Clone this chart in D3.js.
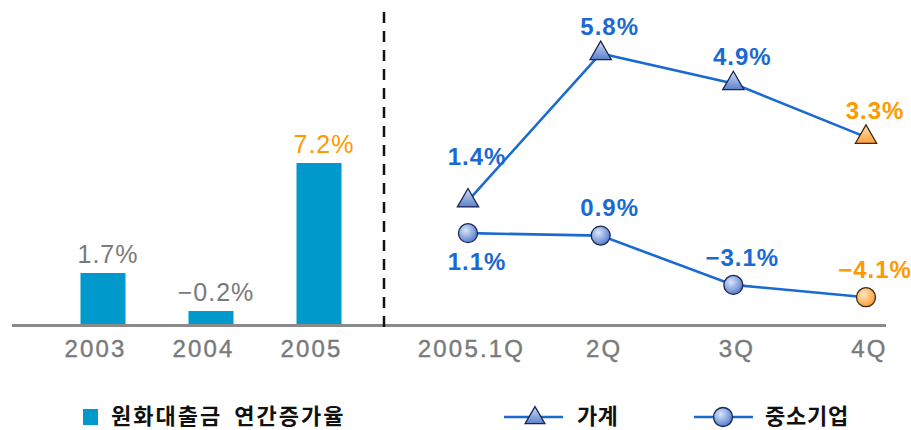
<!DOCTYPE html>
<html><head><meta charset="utf-8">
<script src="https://cdn.jsdelivr.net/npm/d3@7"></script>
<style>
html,body{margin:0;padding:0;background:#fff;}
svg{display:block;}
</style></head><body>
<svg id="chart" width="911" height="430"></svg>
<script>
// ---- data ----
const years = ["2003", "2004", "2005"];
const loanGrowth = [1.7, -0.2, 7.2];
const quarters = ["2005.1Q", "2Q", "3Q", "4Q"];
const household = [1.4, 5.8, 4.9, 3.3];
const sme = [1.1, 0.9, -3.1, -4.1];
const seriesNames = ["원화대출금 연간증가율", "가계", "중소기업"];

// ---- setup ----
const svg = d3.select("#chart");
const baseY = 325;
const BLUE = "#1a6ad2", ORANGE = "#ff9900", GRAY = "#7a7a7a", BAR = "#0099cc";
const NUMFONT = "'Liberation Sans', Arial, sans-serif";
const KRFONT = "'Noto Sans CJK KR', sans-serif";
const fmt = v => d3.format(".1f")(v) + "%";

const defs = svg.append("defs");
function linGrad(id, c1, c2) {
  const g = defs.append("linearGradient").attr("id", id).attr("x1", 0).attr("y1", 0).attr("x2", 0).attr("y2", 1);
  g.append("stop").attr("offset", "0%").attr("stop-color", c1);
  g.append("stop").attr("offset", "100%").attr("stop-color", c2);
}
function radGrad(id, c1, c2) {
  const g = defs.append("radialGradient").attr("id", id).attr("cx", "38%").attr("cy", "35%").attr("r", "70%");
  g.append("stop").attr("offset", "0%").attr("stop-color", c1);
  g.append("stop").attr("offset", "100%").attr("stop-color", c2);
}
linGrad("triBlue", "#d3e0f8", "#5b7fc9");
linGrad("triOrange", "#ffe2b8", "#ff9f3a");
radGrad("cirBlue", "#dbe6fb", "#4e78cb");
radGrad("cirOrange", "#ffe4bd", "#ff9a2e");

// ---- scales ----
const xBar = d3.scalePoint().domain(years).range([103, 319]);
const yBar = d3.scaleLinear().domain([-0.9, 7.2]).range([baseY, 163]);
const xQ = d3.scalePoint().domain(quarters).range([468, 866]);
const yHH = d3.scaleLinear().domain([0, 6]).range([247.7, 46.7]);
const ySME = d3.scaleLinear().domain([-5, 0]).range([308.3, 246.7]);

// ---- bars ----
const barW = 45;
svg.append("g").selectAll("rect").data(loanGrowth).join("rect")
  .attr("x", (d, i) => xBar(years[i]) - barW / 2)
  .attr("width", barW)
  .attr("y", d => yBar(d))
  .attr("height", d => baseY - yBar(d))
  .attr("fill", BAR);

svg.append("g").selectAll("text").data(loanGrowth).join("text")
  .attr("x", (d, i) => xBar(years[i]) + 5)
  .attr("y", d => yBar(d) - 19)
  .attr("dy", "0.36em")
  .attr("text-anchor", "middle")
  .attr("font-family", NUMFONT).attr("font-size", 25).attr("letter-spacing", 1)
  .attr("fill", (d, i) => i === loanGrowth.length - 1 ? ORANGE : GRAY)
  .text(d => fmt(d));

// ---- baseline & divider ----
svg.append("line").attr("x1", 12).attr("x2", 886).attr("y1", baseY + 0.5).attr("y2", baseY + 0.5)
  .attr("stroke", "#8a8a8a").attr("stroke-width", 3);
svg.append("line").attr("x1", 384).attr("x2", 384).attr("y1", 12).attr("y2", 333)
  .attr("stroke", "#111").attr("stroke-width", 2.5).attr("stroke-dasharray", "11 8");

// ---- axes ----
function styleAxis(g) {
  g.select(".domain").remove();
  g.attr("font-family", NUMFONT).attr("font-size", 24);
  g.selectAll("text").attr("fill", GRAY).attr("letter-spacing", 2.2)
    .attr("stroke", GRAY).attr("stroke-width", 0.4);
}
svg.append("g").attr("transform", `translate(-8,${baseY})`)
  .call(d3.axisBottom(xBar).tickSize(0).tickPadding(15)).call(styleAxis);
svg.append("g").attr("transform", `translate(3,${baseY})`)
  .call(d3.axisBottom(xQ).tickSize(0).tickPadding(15)).call(styleAxis);

// ---- lines ----
const lineHH = d3.line().x((d, i) => xQ(quarters[i])).y(d => yHH(d));
const lineSME = d3.line().x((d, i) => xQ(quarters[i])).y(d => ySME(d));
svg.append("path").attr("d", lineHH(household)).attr("fill", "none").attr("stroke", BLUE).attr("stroke-width", 2.6);
svg.append("path").attr("d", lineSME(sme)).attr("fill", "none").attr("stroke", BLUE).attr("stroke-width", 2.6);

const tri = d3.symbol(d3.symbolTriangle, 195);
const MSTROKE = "#1b2550";
svg.append("g").selectAll("path").data(household).join("path")
  .attr("d", tri)
  .attr("transform", (d, i) => `translate(${xQ(quarters[i])},${yHH(d)})`)
  .attr("fill", (d, i) => i === household.length - 1 ? "url(#triOrange)" : "url(#triBlue)")
  .attr("stroke", (d, i) => i === household.length - 1 ? "#3a2a14" : MSTROKE)
  .attr("stroke-width", 1.3);
svg.append("g").selectAll("circle").data(sme).join("circle")
  .attr("cx", (d, i) => xQ(quarters[i]))
  .attr("cy", d => ySME(d))
  .attr("r", 9.5)
  .attr("fill", (d, i) => i === sme.length - 1 ? "url(#cirOrange)" : "url(#cirBlue)")
  .attr("stroke", (d, i) => i === sme.length - 1 ? "#3a2a14" : MSTROKE)
  .attr("stroke-width", 1.3);

// ---- line labels ----
svg.append("g").selectAll("text").data(household).join("text")
  .attr("x", (d, i) => xQ(quarters[i]) + 9)
  .attr("y", (d, i) => yHH(d) + (i === 0 ? -44 : -27))
  .attr("dy", "0.36em").attr("text-anchor", "middle")
  .attr("font-family", NUMFONT).attr("font-size", 24).attr("font-weight", "bold").attr("letter-spacing", 1)
  .attr("fill", (d, i) => i === household.length - 1 ? ORANGE : BLUE)
  .text(d => fmt(d));
svg.append("g").selectAll("text").data(sme).join("text")
  .attr("x", (d, i) => xQ(quarters[i]) + 9)
  .attr("y", (d, i) => ySME(d) + (i === 0 ? 28 : -28))
  .attr("dy", "0.36em").attr("text-anchor", "middle")
  .attr("font-family", NUMFONT).attr("font-size", 24).attr("font-weight", "bold").attr("letter-spacing", 1)
  .attr("fill", (d, i) => i === sme.length - 1 ? ORANGE : BLUE)
  .text(d => fmt(d));

// ---- legend ----
const leg = svg.append("g").attr("font-family", KRFONT).attr("font-weight", 700)
  .attr("font-size", 22).attr("fill", "#111");
const ly = 416;
leg.append("rect").attr("x", 83).attr("y", ly - 7).attr("width", 15).attr("height", 16).attr("fill", BAR);
leg.append("text").attr("x", 111).attr("y", ly).attr("dy", "0.36em")
  .attr("letter-spacing", 2).attr("word-spacing", 5).text(seriesNames[0]);

leg.append("line").attr("x1", 504).attr("x2", 563).attr("y1", ly + 1).attr("y2", ly + 1).attr("stroke", BLUE).attr("stroke-width", 2.6);
leg.append("path").attr("d", d3.symbol(d3.symbolTriangle, 170)).attr("transform", `translate(535,${ly + 2})`)
  .attr("fill", "url(#triBlue)").attr("stroke", MSTROKE).attr("stroke-width", 1.3);
leg.append("text").attr("x", 577).attr("y", ly).attr("dy", "0.36em").attr("letter-spacing", 0.3).text(seriesNames[1]);

leg.append("line").attr("x1", 694).attr("x2", 753).attr("y1", ly + 1).attr("y2", ly + 1).attr("stroke", BLUE).attr("stroke-width", 2.6);
leg.append("circle").attr("cx", 723).attr("cy", ly + 1).attr("r", 9.5)
  .attr("fill", "url(#cirBlue)").attr("stroke", MSTROKE).attr("stroke-width", 1.3);
leg.append("text").attr("x", 765).attr("y", ly).attr("dy", "0.36em").attr("letter-spacing", 0.8).text(seriesNames[2]);
</script>
</body></html>
